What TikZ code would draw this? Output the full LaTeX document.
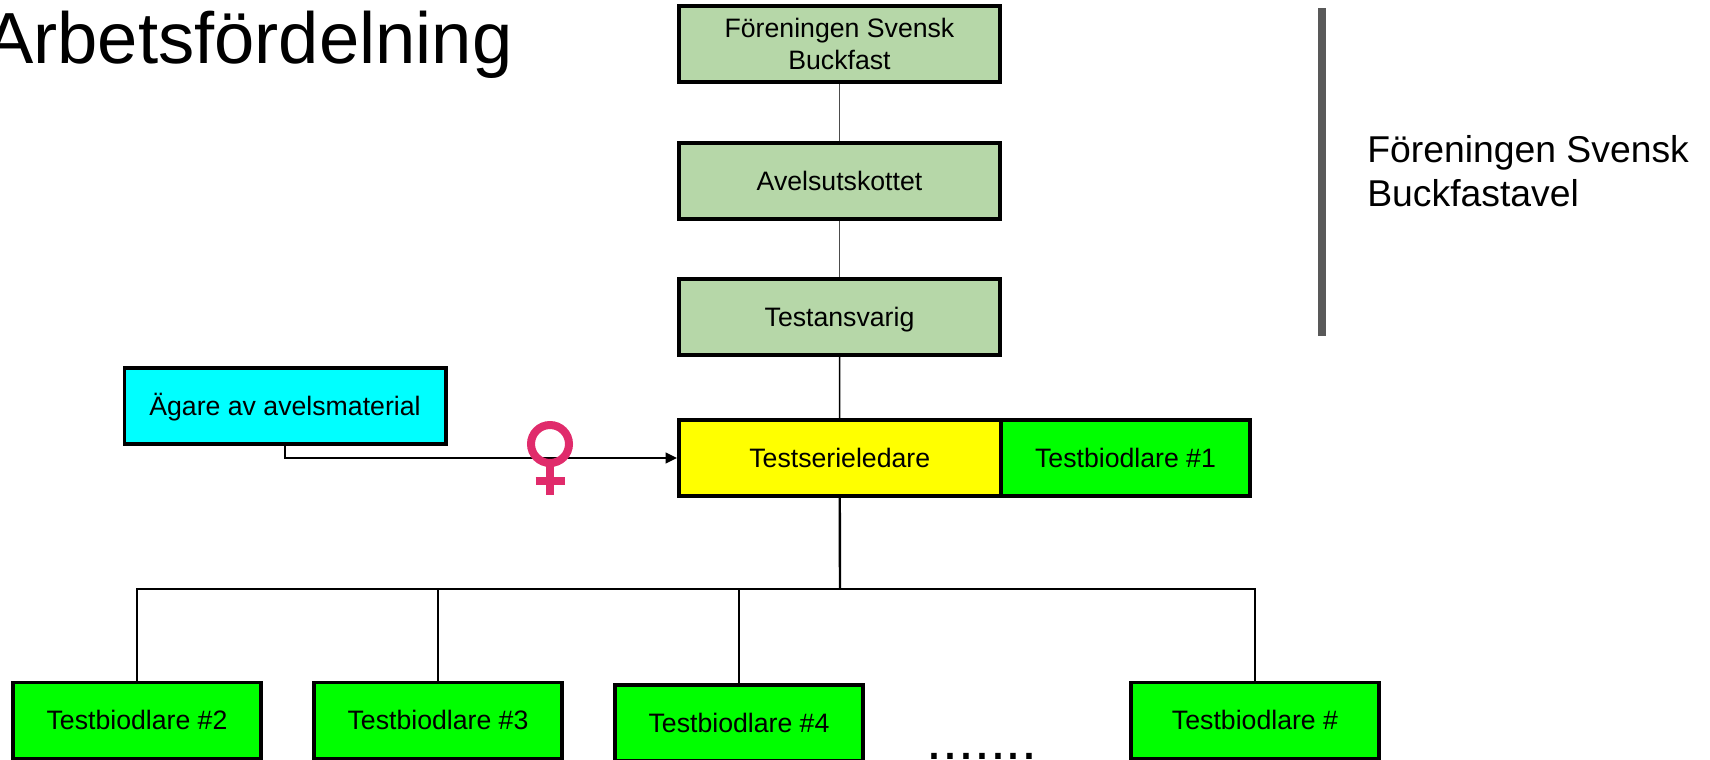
\documentclass[tikz,border=0pt]{standalone}
\usepackage{fontspec}
\setmainfont{Liberation Sans}
\usetikzlibrary{arrows.meta}
\definecolor{sage}{HTML}{B6D7A8}
\definecolor{lime}{HTML}{00FF00}
\definecolor{aqua}{HTML}{00FFFF}
\definecolor{yel}{HTML}{FFFF00}
\definecolor{venus}{HTML}{E02B6B}
\definecolor{barg}{HTML}{595959}
\tikzset{x=0.75pt,y=-0.75pt,
  orgbox/.style={draw=black,line width=2.8pt,inner sep=0pt,align=center,font=\fontsize{20}{23.4}\selectfont},
  oneline/.style={text height=14pt,text depth=0pt},
  conn/.style={draw=black,line width=0.8pt},
  mid conn/.style={draw=black,line width=1.2pt},
  thick conn/.style={draw=black,line width=1.8pt}}
\newcommand{\boxat}[7]{\node[orgbox,oneline,fill=#6,minimum width=#3*0.75pt-2.8pt,minimum height=#4*0.75pt-2.8pt,anchor=center] (#5) at (#1,#2) {#7};}
\begin{document}
\begin{tikzpicture}
\useasboundingbox (0,0) rectangle (1710,760);
\clip (0,0) rectangle (1710,760);
\node[orgbox,fill=sage,minimum width=325*0.75pt-2.8pt,minimum height=80*0.75pt-2.8pt,anchor=center] (fsb) at (839.5,44) {Föreningen Svensk\\Buckfast};
\boxat{839.5}{181}{325}{80}{avel}{sage}{Avelsutskottet}
\boxat{839.5}{317}{325}{80}{tans}{sage}{Testansvarig}
\boxat{285}{406}{325}{80}{agare}{aqua}{Ägare av avelsmaterial}
\boxat{839.75}{458}{325.5}{80}{tsl}{yel}{Testserieledare}
\boxat{1125.5}{458}{252}{80}{tb1}{lime}{Testbiodlare \#1}
\boxat{137}{720.5}{252}{80}{tb2}{lime}{Testbiodlare \#2}
\boxat{438}{720.5}{252}{80}{tb3}{lime}{Testbiodlare \#3}
\boxat{739}{723}{252}{80}{tb4}{lime}{Testbiodlare \#4}
\boxat{1255}{720.5}{252}{80}{tbn}{lime}{Testbiodlare \#}
\coordinate (hub) at (840,589);
\coordinate (j3) at (438,589);
\coordinate (j4) at (739,589);
\draw[conn,draw=black!70] (fsb) -- (avel);
\draw[conn,draw=black!70] (avel) -- (tans);
\draw[mid conn] (tans) -- (tsl);
\draw[thick conn] (tsl.south) -- (hub);
\draw[conn] (j3) -| (tb2.north);
\draw[mid conn] (hub) -- (j3);
\draw[conn] (j3) -- (tb3.north);
\draw[thick conn] (hub) -- (j4);
\draw[mid conn] (j4) -- (tb4.north);
\draw[conn] (hub) -| (tbn.north);
\draw[mid conn,-{Triangle[length=8.5pt,width=8pt]}] (agare.south) |- (tsl.west);
\node[inner sep=0pt,anchor=west,font=\fontsize{28}{33}\selectfont,align=left] (sub) at (1367,171) {Föreningen Svensk\\Buckfastavel};
\node[inner sep=0pt,anchor=base west,font=\fontsize{54.3}{60}\selectfont] (title) at (-15,63) {Arbetsfördelning};
\fill[barg] (1318,8) rectangle (1326,336);
\draw[venus,line width=6pt] (550,444) circle (19);
\draw[venus,line width=6.5pt] (550,463) -- (550,495);
\draw[venus,line width=6.5pt] (535.5,481) -- (564.5,481);
\node[inner sep=0pt,font=\fontsize{43}{43}\selectfont,anchor=base] (dots) at (982,759) {.......};
\end{tikzpicture}
\end{document}
